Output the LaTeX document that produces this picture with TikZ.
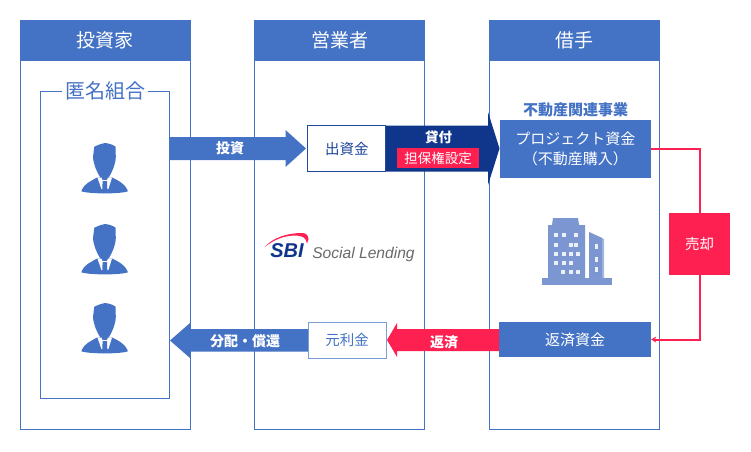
\documentclass[tikz,border=0pt]{standalone}
\usepackage{fontspec}
\usetikzlibrary{arrows.meta}
\setmainfont{Noto Sans CJK JP}
\newfontfamily\logofont{Liberation Sans}
\definecolor{mainblue}{HTML}{4472C4}
\definecolor{navy}{HTML}{10368C}
\definecolor{hotred}{HTML}{FF2052}
\definecolor{bldg}{HTML}{7C96D2}
\definecolor{logogray}{HTML}{6A6A6A}
\newcommand{\fsz}[1]{\fontsize{#1pt}{#1pt}\selectfont}
\tikzset{
  colbox/.style={draw=mainblue,line width=1pt,fill=white,inner sep=0pt,minimum width=170pt,minimum height=409pt},
  colhead/.style={fill=mainblue,text=white,inner sep=0pt,minimum width=171pt,minimum height=40.5pt,font=\fsz{19}},
  bluebox/.style={fill=mainblue,text=white,inner sep=0pt,align=center,font=\fsz{15}},
  whitebox/.style={draw=mainblue,line width=1pt,fill=white,text=mainblue,inner sep=0pt,minimum width=78pt,font=\fsz{14.5}},
  arrowtext/.style={text=white,inner sep=0pt,font=\fsz{14}\bfseries},
  plainlabel/.style={inner sep=0pt},
  person/.pic={
    \fill[mainblue] (-10.7,3.7) .. controls (-6,1.5) and (-3,0.5) .. (0,0) .. controls (4,0.5) and (8,1.5) .. (10.5,3.7)
      -- (10.8,14) .. controls (10.5,22) and (7,29) .. (3.5,35) -- (-4.5,35) .. controls (-8,29) and (-11.5,22) .. (-12,14) -- cycle;
    \fill[mainblue] (-23.3,47) .. controls (-21,41) and (-14,38) .. (-8.3,34.7) -- (7.7,34.7)
      .. controls (14,38) and (20,41) .. (22.5,47) -- (22.5,48.5) .. controls (14,51) and (-14,51) .. (-23.3,48.5) -- cycle;
    \fill[white] (-7.5,34.6) -- (-3.6,34.6) -- (-2.6,37) -- (2,37) -- (3,34.6) -- (7,34.6) -- (3.4,46) -- (-3.6,46) -- cycle;
    \fill[mainblue] (-2.4,38) -- (2,38) -- (2.3,47) -- (-2.7,47) -- cycle;
  },
}
\begin{document}
\begin{tikzpicture}[x=1pt,y=-1pt]
\useasboundingbox (0,0) rectangle (751,451);
% columns
\node[colbox] (inv) at (105.25,224.5) {};
\node[colbox] (ope) at (339.75,224.5) {};
\node[colbox] (bor) at (574.75,224.5) {};
\node[colhead] (invh) at (105.25,40.25) {投資家};
\node[colhead] (opeh) at (339.75,40.25) {営業者};
\node[colhead] (borh) at (574.75,40.25) {借手};
% inner box
\node[draw=mainblue,line width=1pt,inner sep=0pt,minimum width=129pt,minimum height=307pt] (tk) at (104.5,244.5) {};
\node[fill=white,text=mainblue,inner sep=0pt,inner xsep=3pt,font=\fsz{20}] (tkl) at (105,91) {匿名組合};
% persons
\pic at (105,143) {person};
\pic at (105,224) {person};
\pic at (105,303) {person};
% invest arrow
\fill[mainblue] (169,137) -- (285.5,137) -- (285.5,130) -- (306,148.5) -- (285.5,167) -- (285.5,160) -- (169,160) -- cycle;
\node[arrowtext] (a1) at (230,148) {投資};
% lending arrow
\fill[navy] (386,125.5) -- (488,125.5) -- (488,112) -- (499.5,148.5) -- (488,185) -- (488,171.5) -- (386,171.5) -- cycle;
\node[arrowtext,font=\fsz{13.5}\bfseries] (a2) at (438.5,137.5) {貸付};
\node[fill=hotred,text=white,inner sep=0pt,minimum width=82pt,minimum height=20pt,font=\fsz{13.5}] (sec) at (438,158) {担保権設定};
\node[whitebox,draw=navy!70!mainblue,text=navy!75!mainblue,minimum height=46pt] (cap) at (346.75,148.5) {出資金};
% borrower boxes
\node[plainlabel,text=mainblue,font=\fsz{15}\bfseries] (biz) at (575.5,110) {不動産関連事業};
\node[bluebox,minimum width=151.5pt,minimum height=58pt,font=\fontsize{15pt}{20pt}\selectfont] (proj) at (575.25,149) {プロジェクト資金\\（不動産購入）};
\node[bluebox,minimum width=152pt,minimum height=35pt] (rep) at (575,339.5) {返済資金};
\node[fill=hotred,text=white,inner sep=0pt,minimum width=61pt,minimum height=62pt,font=\fsz{14.5}] (sell) at (699.5,244) {売却};
\draw[hotred,line width=2pt] (proj.east) -| (sell.north);
\draw[hotred,line width=2pt,-{Stealth[length=5pt,width=6pt]}] (sell.south) |- (rep.east);
% building
\fill[bldg] (542,278) rectangle (612,285);
\fill[bldg] (548,278) -- (548,225) -- (552,225) -- (553,218) -- (578,218) -- (579,225) -- (585,225) -- (585,278) -- cycle;
\fill[bldg!70!white] (589,278) -- (589,232) -- (604,239) -- (604,278) -- cycle;
\fill[bldg] (589,278) -- (589,232) -- (602,238) -- (602,278) -- cycle;
\foreach \wx/\wy in {554/233,562/233,574/233,554/243,569/243,574/243,554/252,562/252,569/252,576/252,554/261,562/261,569/261,561/270,569/270,576/270}
  \fill[white!85!bldg] (\wx,\wy) rectangle ++(4,4);
\foreach \wy in {244,257,267}
  \fill[white!85!bldg] (595,\wy) rectangle ++(3,5);
% repay arrow
\fill[hotred] (499,329) -- (397,329) -- (397,323) -- (387,340) -- (397,357) -- (397,351) -- (499,351) -- cycle;
\node[arrowtext] (a3) at (444,342) {返済};
% distribution arrow
\fill[mainblue] (308,329) -- (190,329) -- (190,323) -- (170,340.5) -- (190,358) -- (190,351.5) -- (308,351.5) -- cycle;
\node[arrowtext] (a4) at (245,341) {分配・償還};
\node[whitebox,draw=mainblue!70!white,minimum height=35.5pt] (int) at (347,340.25) {元利金};
% logo
\fill[hotred] (265,247) .. controls (272,238) and (287,233) .. (302,233) .. controls (306,233) and (308,235) .. (308.5,239) -- (307,243.5) .. controls (306.5,238) and (302,235.5) .. (296,235.5) .. controls (284,235.5) and (273,240) .. (265,247) -- cycle;
\node[plainlabel,text=navy,font=\logofont\fsz{20}\bfseries\itshape] (sbi) at (287,250.5) {SBI};
\node[plainlabel,text=logogray,font=\logofont\fsz{15.6}\itshape] (sl) at (363.5,254) {Social Lending};
\end{tikzpicture}
\end{document}
